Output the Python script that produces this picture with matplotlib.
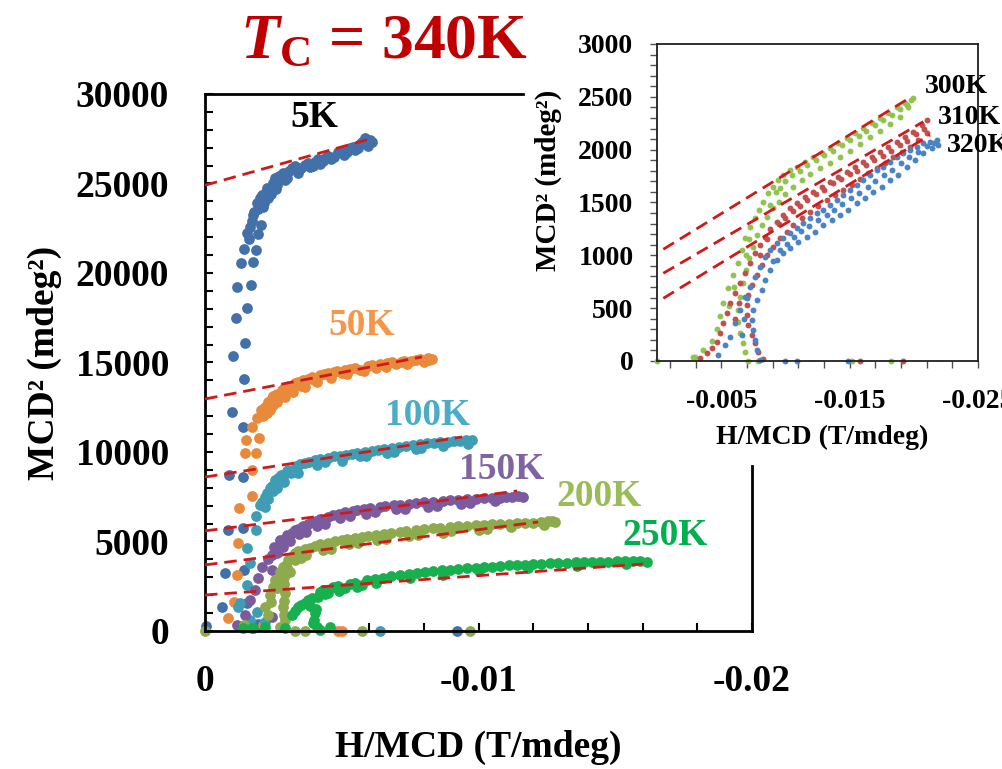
import matplotlib
matplotlib.use("Agg")
import matplotlib.pyplot as plt

plt.rcParams['font.family'] = 'Liberation Serif'
plt.rcParams['font.weight'] = 'bold'
plt.rcParams['axes.labelweight'] = 'bold'
plt.rcParams['mathtext.fontset'] = 'custom'
plt.rcParams['mathtext.rm'] = 'Liberation Serif:bold'
plt.rcParams['mathtext.it'] = 'Liberation Serif:italic:bold'
plt.rcParams['mathtext.bf'] = 'Liberation Serif:bold'

# ---- Arrott plots, main panel (H/MCD in T/mdeg, MCD^2 in mdeg^2) ----
temps = ['5K', '50K', '100K', '150K', '200K', '250K']

x_5k = [-0.00004, -0.00062, -0.00154, -0.00073, -0.00143, -0.00084, -0.00139, -0.00088, -0.00139,
        -0.00099, -0.00139, -0.00102, -0.00143, -0.00146, -0.00113, -0.00154, -0.00117, -0.00168,
        -0.00132, -0.00176, -0.00143, -0.00186, -0.00154, -0.00165, -0.00194, -0.00176, -0.00205,
        -0.00190, -0.00194, -0.00208, -0.00215, -0.00227, -0.00240, -0.00256, -0.00265, -0.00285,
        -0.00300, -0.00318, -0.00340, -0.00366, -0.00385, -0.00402, -0.00420, -0.00439, -0.00460,
        -0.00486, -0.00510, -0.00530, -0.00548, -0.00567, -0.00585, -0.00596, -0.00611, -0.00921,
        -0.00194,
        -0.00200, -0.00212, -0.00222, -0.00232, -0.00248, -0.00260, -0.00272, -0.00292, -0.00308,
        -0.00330, -0.00352, -0.00375, -0.00395, -0.00412, -0.00430, -0.00450, -0.00472, -0.00498,
        -0.00520, -0.00540, -0.00558, -0.00575, -0.00590, -0.00605, -0.00170, -0.00180, -0.00160]
y_5k = [250, 1340, 1560, 3240, 3410, 5640, 5750, 8720, 8600,
        12240, 11400, 15360, 14080, 16090, 17490, 18050, 19220, 19330,
        20560, 20620, 21340, 21280, 22240, 22570, 22180, 23240, 22680,
        23910, 23550, 24360, 23900, 24750, 24400, 25310, 24900, 25590,
        25300, 25870, 25600, 26030, 25900, 26200, 26100, 26430, 26350,
        26760, 26600, 26990, 26850, 27210, 27540, 27100, 27320, 0,
        390,
        24200, 23700, 24500, 24200, 25050, 24700, 25400, 25200, 25700,
        25950, 25850, 26150, 26000, 26350, 26250, 26550, 26500, 26800,
        26750, 27050, 27000, 27300, 27250, 27450, 22900, 23400, 21900]

x_50k = [-0.00084, -0.00106, -0.00117, -0.00121, -0.00124, -0.00172, -0.00172, -0.00146, -0.00186,
         -0.00150, -0.00197, -0.00172, -0.00190, -0.00205, -0.00219, -0.00212, -0.00230, -0.00238,
         -0.00245, -0.00263, -0.00265, -0.00282, -0.00293, -0.00303, -0.00320, -0.00329, -0.00358,
         -0.00365, -0.00391, -0.00410, -0.00420, -0.00450, -0.00460, -0.00483, -0.00512, -0.00520,
         -0.00548, -0.00580, -0.00596, -0.00640, -0.00660, -0.00684, -0.00728, -0.00740, -0.00771,
         -0.00800, -0.00815, -0.00830, -0.00212, -0.00486, -0.00501,
         -0.00225, -0.00235, -0.00250, -0.00255, -0.00272, -0.00290, -0.00310, -0.00340, -0.00350,
         -0.00375, -0.00400, -0.00435, -0.00470, -0.00500, -0.00530, -0.00565, -0.00610, -0.00625,
         -0.00665, -0.00700, -0.00715, -0.00755, -0.00785, -0.00820, -0.00250]
y_50k = [730, 1620, 3130, 4920, 6870, 7540, 9000, 9940, 9940,
         10670, 10780, 11400, 11900, 12350, 12510, 12000, 12790, 12350,
         13020, 13240, 12800, 13460, 13070, 13690, 13350, 13860, 14020,
         13650, 14190, 13900, 14300, 14410, 14150, 14530, 14580, 14350,
         14690, 14550, 14810, 14920, 14750, 15030, 15080, 14900, 15140,
         15050, 15250, 15200, 340, 0, 0,
         12200, 12650, 12600, 13100, 13000, 13550, 13500, 13900, 13700,
         14100, 14000, 14350, 14450, 14400, 14650, 14600, 14850, 14700,
         14950, 14900, 15050, 15100, 15200, 15150, 13150]

x_100k = [-0.00121, -0.00128, -0.00165, -0.00190, -0.00219, -0.00154, -0.00165, -0.00154, -0.00186,
          -0.00186, -0.00201, -0.00219, -0.00219, -0.00238, -0.00230, -0.00256, -0.00265, -0.00278,
          -0.00290, -0.00303, -0.00333, -0.00340, -0.00366, -0.00402, -0.00410, -0.00450, -0.00494,
          -0.00500, -0.00537, -0.00585, -0.00590, -0.00633, -0.00684, -0.00690, -0.00735, -0.00786,
          -0.00790, -0.00837, -0.00888, -0.00932, -0.00976, -0.00640,
          -0.00210, -0.00225, -0.00245, -0.00250, -0.00268, -0.00285, -0.00298, -0.00315, -0.00348,
          -0.00380, -0.00420, -0.00440, -0.00470, -0.00515, -0.00555, -0.00565, -0.00610, -0.00655,
          -0.00665, -0.00710, -0.00760, -0.00770, -0.00810, -0.00860, -0.00870, -0.00910, -0.00955,
          -0.00960]
y_100k = [1340, 1560, 610, 1060, 500, 2570, 3800, 4640, 5640,
          6430, 7040, 6930, 7490, 7990, 7400, 8440, 8000, 8720,
          8350, 9000, 9220, 8850, 9390, 9550, 9250, 9670, 9780,
          9500, 9890, 10000, 9750, 10110, 10220, 9980, 10340, 10450,
          10200, 10500, 10560, 10620, 10670, 0,
          7200, 7700, 8100, 7800, 8550, 8500, 8950, 8800, 9300,
          9450, 9600, 9450, 9750, 9850, 9950, 9750, 10050, 10150,
          9950, 10280, 10400, 10150, 10480, 10530, 10350, 10600, 10650,
          10450]

x_150k = [-0.00117, -0.00146, -0.00165, -0.00183, -0.00194, -0.00208, -0.00245, -0.00245, -0.00260,
          -0.00274, -0.00285, -0.00300, -0.00310, -0.00329, -0.00358, -0.00370, -0.00391, -0.00420,
          -0.00440, -0.00468, -0.00512, -0.00530, -0.00556, -0.00603, -0.00620, -0.00658, -0.00713,
          -0.00730, -0.00771, -0.00834, -0.00850, -0.00896, -0.00958, -0.00970, -0.01020, -0.01079,
          -0.01122, -0.01163, -0.00289, -0.00245,
          -0.00230, -0.00252, -0.00265, -0.00280, -0.00292, -0.00318, -0.00340, -0.00345, -0.00375,
          -0.00405, -0.00410, -0.00450, -0.00490, -0.00495, -0.00540, -0.00580, -0.00590, -0.00640,
          -0.00690, -0.00700, -0.00745, -0.00800, -0.00815, -0.00870, -0.00925, -0.00935, -0.00990,
          -0.01050, -0.01060, -0.01100, -0.01145]
y_150k = [340, 890, 1730, 2290, 2960, 3580, 3410, 4250, 4640,
          5080, 4700, 5360, 5000, 5640, 5870, 5550, 6090, 6260,
          5950, 6480, 6650, 6400, 6760, 6870, 6650, 6980, 7040,
          6820, 7150, 7210, 7000, 7320, 7370, 7150, 7430, 7430,
          7490, 7490, 220, 780,
          4000, 4700, 4350, 4900, 5150, 5450, 5700, 5400, 5950,
          6150, 5850, 6350, 6550, 6300, 6700, 6800, 6550, 6920,
          7020, 6800, 7100, 7180, 6950, 7270, 7330, 7100, 7400,
          7450, 7250, 7480, 7530]

x_200k = [-0.00143, -0.00219, -0.00238, -0.00256, -0.00274, -0.00285, -0.00293, -0.00285, -0.00293,
          -0.00274, -0.00303, -0.00300, -0.00329, -0.00330, -0.00366, -0.00370, -0.00402, -0.00450,
          -0.00460, -0.00501, -0.00548, -0.00560, -0.00596, -0.00654, -0.00660, -0.00713, -0.00771,
          -0.00780, -0.00834, -0.00896, -0.00900, -0.00958, -0.01020, -0.01030, -0.01079, -0.01141,
          -0.01199, -0.01254, -0.01280, -0.00329, -0.00366, -0.00574, -0.00969, 0.0,
          -0.00262, -0.00270, -0.00278, -0.00290, -0.00296, -0.00310, -0.00315, -0.00340, -0.00350,
          -0.00385, -0.00420, -0.00430, -0.00475, -0.00520, -0.00525, -0.00575, -0.00625, -0.00630,
          -0.00680, -0.00735, -0.00745, -0.00800, -0.00860, -0.00870, -0.00925, -0.00990, -0.01000,
          -0.01050, -0.01110, -0.01120, -0.01170, -0.01230, -0.01240, -0.01268,
          -0.00288, -0.00290, -0.00288, -0.00250, -0.00240, -0.00230]
y_200k = [340, 1340, 2010, 2850, 3300, 3580, 2120, 1340, 610,
          220, 3970, 3500, 4360, 3950, 4580, 4250, 4750, 4920,
          4600, 5080, 5200, 4900, 5310, 5420, 5150, 5530, 5640,
          5380, 5750, 5810, 5580, 5870, 5920, 5700, 5980, 6030,
          6030, 6150, 6090, 0, 0, 0, 0, 0,
          2400, 2700, 3100, 3000, 3700, 3300, 4150, 4450, 4100,
          4650, 4850, 4500, 5000, 5150, 4850, 5250, 5380, 5100,
          5480, 5590, 5300, 5690, 5780, 5500, 5850, 5900, 5650,
          5950, 6000, 5800, 6030, 6080, 5900, 6120,
          2600, 1700, 900, 2450, 1600, 900]

x_250k = [-0.00176, -0.00219, -0.00293, -0.00318, -0.00340, -0.00366, -0.00395, -0.00402, -0.00410,
          -0.00420, -0.00457, -0.00391, -0.00413, -0.00420, -0.00450, -0.00468, -0.00512, -0.00530,
          -0.00574, -0.00592, -0.00651, -0.00713, -0.00775, -0.00834, -0.00896, -0.00958, -0.01020,
          -0.01079, -0.01141, -0.01199, -0.01261, -0.01324, -0.01386, -0.01444, -0.01506, -0.01565,
          -0.01616, -0.00139, -0.00172,
          -0.00330, -0.00350, -0.00375, -0.00385, -0.00400, -0.00405, -0.00430, -0.00440, -0.00485,
          -0.00490, -0.00550, -0.00555, -0.00620, -0.00625, -0.00680, -0.00745, -0.00750, -0.00805,
          -0.00865, -0.00870, -0.00925, -0.00990, -0.01000, -0.01050, -0.01110, -0.01170, -0.01180,
          -0.01230, -0.01290, -0.01355, -0.01360, -0.01415, -0.01475, -0.01535, -0.01590, -0.01540]
y_250k = [170, 220, 170, 890, 1340, 1560, 450, 1010, 220,
          60, 220, 1840, 1900, 2180, 2120, 2460, 2400, 2630,
          2570, 2850, 2960, 3130, 3240, 3350, 3410, 3520, 3580,
          3630, 3690, 3740, 3800, 3800, 3860, 3860, 3910, 3910,
          3860, 170, 170,
          1100, 1450, 1750, 1400, 600, 1250, 2300, 2050, 2500,
          2250, 2700, 2450, 2900, 2700, 3050, 3180, 2950, 3300,
          3380, 3150, 3460, 3540, 3350, 3600, 3660, 3710, 3520,
          3760, 3790, 3830, 3650, 3860, 3880, 3900, 3900, 3720]

# linear fits of the high-field part
fit_y0 = [24900, 12960, 8600, 5590, 3690, 2010]
fit_x1 = [-0.00603, -0.00793, -0.00940, -0.01141, -0.01218, -0.01601]
fit_y1 = [27490, 15310, 10840, 7820, 6090, 3740]

# temperature tags
tag_x = [-0.00399, -0.00574, -0.00815, -0.01086, -0.01441, -0.01682]
tag_y = [28660, 17040, 12010, 9000, 7490, 5360]

dot_colors = ['#4470AA', '#E8893C', '#3E9DB5', '#7A5C9E', '#8DAA4C', '#16B04E']
tag_colors = ['black', '#F79646', '#4BACC6', '#8064A2', '#9BBB59', '#00B050']

# ---- inset: near Tc ----
temps_in = ['300K', '310K', '320K']

x_300k = [-0.00283, -0.00361, -0.00426, -0.00465, -0.00491, -0.00517, -0.00556, -0.00595, -0.00628,
          -0.00659, -0.00685, -0.00724, -0.00763, -0.00797, -0.00828, -0.00867, -0.00906, -0.00945,
          -0.00984, -0.01036, -0.01088, -0.01153, -0.01218, -0.01282, -0.01347, -0.01412, -0.01477,
          -0.01542, -0.01607, -0.01672, -0.01737, -0.01802, -0.01867, -0.01931, -0.01996,
          -0.00711, -0.00685, -0.00667, -0.00646, -0.00633, -0.00633, -0.00646, -0.00667, -0.00693,
          -0.00719, -0.00750, -0.00781, -0.00815, -0.00854, -0.00901, -0.00948, -0.00999, -0.01062,
          -0.01127, -0.01192, -0.01269, -0.01347, -0.01425, -0.01503, -0.01581, -0.01659, -0.01737,
          -0.01815, -0.01893, -0.01957,
          0.0, -0.00296, -0.00789, -0.01516, -0.01822,
          -0.01000, -0.01050, -0.01110, -0.01170, -0.01240, -0.01300, -0.01370, -0.01440, -0.01500,
          -0.01570, -0.01630, -0.01700, -0.01760, -0.01830, -0.01890, -0.01950, -0.01980, -0.00880,
          -0.00930, -0.00960, -0.00720, -0.00690, -0.00600, -0.00560]
y_300k = [35, 104, 192, 300, 426, 546, 688, 814, 924,
          1051, 1161, 1271, 1350, 1429, 1508, 1587, 1650, 1713,
          1760, 1808, 1839, 1887, 1934, 1972, 2013, 2060, 2108,
          2155, 2202, 2250, 2297, 2344, 2401, 2445, 2486,
          3, 88, 167, 262, 372, 483, 609, 735, 861,
          972, 1082, 1193, 1287, 1366, 1445, 1508, 1581, 1650,
          1713, 1770, 1824, 1877, 1934, 1991, 2054, 2117, 2180,
          2243, 2313, 2401,
          0, 35, 0, 0, 0,
          1700, 1760, 1800, 1850, 1900, 1950, 1990, 2040, 2090,
          2130, 2180, 2230, 2280, 2330, 2380, 2420, 2470, 1480,
          1600, 1640, 1150, 1000, 700, 520]

x_310k = [-0.00335, -0.00387, -0.00426, -0.00465, -0.00491, -0.00517, -0.00543, -0.00569, -0.00607,
          -0.00646, -0.00685, -0.00724, -0.00763, -0.00802, -0.00841, -0.00880, -0.00932, -0.00984,
          -0.01036, -0.01088, -0.01153, -0.01218, -0.01282, -0.01347, -0.01412, -0.01477, -0.01542,
          -0.01607, -0.01672, -0.01737, -0.01802, -0.01867, -0.01931, -0.01996, -0.02061, -0.02100,
          -0.00828, -0.00789, -0.00763, -0.00737, -0.00711, -0.00698, -0.00698, -0.00711, -0.00737,
          -0.00776, -0.00815, -0.00854, -0.00906, -0.00958, -0.01010, -0.01062, -0.01127, -0.01192,
          -0.01256, -0.01321, -0.01386, -0.01451, -0.01516, -0.01581, -0.01646, -0.01711, -0.01776,
          -0.01841, -0.01906, -0.01970, -0.02035, -0.02100,
          -0.01581, -0.01918,
          -0.00950, -0.01000, -0.01060, -0.01110, -0.01170, -0.01240, -0.01300, -0.01370, -0.01430,
          -0.01500, -0.01560, -0.01630, -0.01690, -0.01760, -0.01820, -0.01890, -0.01950, -0.02020,
          -0.02080, -0.00860, -0.00800, -0.00640, -0.00610]
y_310k = [25, 73, 120, 183, 262, 357, 451, 546, 640,
          735, 830, 924, 1019, 1098, 1177, 1246, 1319, 1382,
          1445, 1499, 1555, 1603, 1650, 1697, 1745, 1792, 1839,
          1887, 1934, 1981, 2029, 2076, 2123, 2171, 2234, 2281,
          16, 88, 167, 246, 341, 435, 530, 625, 719,
          814, 909, 1003, 1082, 1161, 1224, 1287, 1350, 1413,
          1467, 1524, 1571, 1618, 1666, 1719, 1776, 1824, 1871,
          1934, 1981, 2029, 2092, 2155,
          0, 0,
          1300, 1350, 1420, 1470, 1520, 1580, 1620, 1680, 1720,
          1770, 1800, 1850, 1900, 1940, 1990, 2040, 2080, 2150,
          2200, 1150, 1000, 550, 400]

x_320k = [-0.00478, -0.00530, -0.00569, -0.00607, -0.00646, -0.00685, -0.00724, -0.00763, -0.00802,
          -0.00841, -0.00880, -0.00932, -0.00984, -0.01036, -0.01088, -0.01140, -0.01192, -0.01244,
          -0.01295, -0.01347, -0.01399, -0.01451, -0.01503, -0.01555, -0.01607, -0.01659, -0.01711,
          -0.01763, -0.01815, -0.01867, -0.01918, -0.01970, -0.02022, -0.02074, -0.02126, -0.02178,
          -0.00802, -0.00776, -0.00763, -0.00750, -0.00737, -0.00750, -0.00776, -0.00815, -0.00841,
          -0.00880, -0.00932, -0.00984, -0.01036, -0.01101, -0.01166, -0.01231, -0.01295, -0.01360,
          -0.01425, -0.01490, -0.01555, -0.01620, -0.01685, -0.01750, -0.01815, -0.01880, -0.01944,
          -0.02009, -0.02074, -0.02139, -0.02191,
          -0.00997, -0.01088, -0.01490,
          -0.00900, -0.00960, -0.01010, -0.01070, -0.01120, -0.01180, -0.01250, -0.01320, -0.01380,
          -0.01440, -0.01510, -0.01570, -0.01640, -0.01700, -0.01770, -0.01830, -0.01900, -0.01960,
          -0.02030, -0.02100, -0.02160, -0.00700, -0.00680, -0.00660]
y_320k = [57, 151, 230, 357, 483, 609, 704, 798, 893,
          987, 1051, 1114, 1161, 1208, 1256, 1303, 1350, 1398,
          1429, 1477, 1524, 1571, 1618, 1666, 1713, 1760, 1808,
          1839, 1887, 1934, 1966, 1997, 2029, 2060, 2076, 2092,
          9, 104, 199, 293, 388, 483, 577, 672, 767,
          861, 956, 1019, 1066, 1129, 1177, 1224, 1287, 1335,
          1382, 1429, 1492, 1540, 1603, 1650, 1713, 1760, 1839,
          1902, 1966, 2013, 2044,
          0, 0, 0,
          950, 1050, 1110, 1170, 1230, 1280, 1330, 1380, 1430,
          1490, 1540, 1590, 1650, 1700, 1760, 1810, 1870, 1930,
          1980, 2030, 2060, 600, 400, 250]

fit_in_x0 = [-0.00049, -0.00049, -0.00049]
fit_in_y0 = [1057, 830, 593]
fit_in_x1 = [-0.01983, -0.02074, -0.02126]
fit_in_y1 = [2502, 2265, 2139]

tag_in_x = [-0.02087, -0.02188, -0.02259]
tag_in_y = [2593, 2300, 2035]

dot_colors_in = ['#92C350', '#C0504D', '#4A84C4']
fit_color = '#D01A1A'

main_x = [x_5k, x_50k, x_100k, x_150k, x_200k, x_250k]
main_y = [y_5k, y_50k, y_100k, y_150k, y_200k, y_250k]
in_x = [x_300k, x_310k, x_320k]
in_y = [y_300k, y_310k, y_320k]

fig = plt.figure(figsize=(10.02, 7.69), dpi=100)

# main panel
ax = fig.add_axes([0.2046, 0.1795, 0.5459, 0.6983])
for xs, ys, c in zip(main_x, main_y, dot_colors):
    ax.scatter(xs, ys, s=60, color=c, linewidths=0, clip_on=False, zorder=2)
for y0, x1, y1 in zip(fit_y0, fit_x1, fit_y1):
    ax.plot([0, x1], [y0, y1], color=fit_color, lw=2.0, ls=(0, (4.5, 2.5)), zorder=3, clip_on=False)
for t, tx, ty, c in zip(temps, tag_x, tag_y, tag_colors):
    ax.text(tx, ty, t, color=c, fontsize=27, ha='center', va='center', zorder=4)

ax.set_xlim(0, -0.02)
ax.set_ylim(0, 30000)
xt = [-0.002 * i for i in range(11)]
ax.set_xticks(xt, ['0' if i == 0 else ('-0.01' if i == 5 else ('-0.02' if i == 10 else '')) for i in range(11)])
yt = [1000 * i for i in range(31)]
ax.set_yticks(yt, [str(v) if v % 5000 == 0 else '' for v in yt])
ax.tick_params(axis='both', direction='in', length=6, width=1.5, labelsize=27)
ax.tick_params(axis='x', pad=24)
ax.tick_params(axis='y', pad=26)

# the inset sits over the top-right corner, so draw the frame pieces by hand
for side in ['top', 'right']:
    ax.spines[side].set_visible(False)
for side in ['left', 'bottom']:
    ax.spines[side].set_linewidth(2)
ax.plot([0, (523 - 205) / 547], [1, 1], transform=ax.transAxes, color='black', lw=2, clip_on=False)
ax.plot([1, 1], [0, (631 - 466) / 537], transform=ax.transAxes, color='black', lw=2, clip_on=False)

ax.set_ylabel('MCD² (mdeg²)', fontsize=27)
ax.yaxis.set_label_coords(-0.262, 0.5)
ax.set_xlabel('H/MCD (T/mdeg)', fontsize=27)
ax.xaxis.set_label_coords(0.5, -0.185)

# inset panel
axi = fig.add_axes([0.6557, 0.5306, 0.3204, 0.4122])
axi.set_zorder(3)
for xs, ys, c in zip(in_x, in_y, dot_colors_in):
    axi.scatter(xs, ys, s=18, color=c, linewidths=0, clip_on=False, zorder=2)
for x0, y0, x1, y1 in zip(fit_in_x0, fit_in_y0, fit_in_x1, fit_in_y1):
    axi.plot([x0, x1], [y0, y1], color=fit_color, lw=2.0, ls=(0, (4.5, 2.5)), zorder=3)
for t, tx, ty in zip(temps_in, tag_in_x, tag_in_y):
    axi.text(tx, ty, t, fontsize=20, ha='left', va='center', clip_on=False)

axi.set_xlim(0, -0.025)
axi.set_ylim(0, 3000)
xti = [-0.001 - 0.002 * i for i in range(13)]
axi.set_xticks(xti, ['-0.005' if i == 2 else ('-0.015' if i == 7 else ('-0.025' if i == 12 else '')) for i in range(13)])
yti = [100 * i for i in range(31)]
axi.set_yticks(yti, [str(v) if v % 500 == 0 else '' for v in yti])
axi.tick_params(axis='both', direction='out', length=5, width=1, color='#505050', labelsize=20)
axi.tick_params(axis='x', pad=15)
axi.tick_params(axis='y', pad=12)
for side in axi.spines.values():
    side.set_linewidth(1.3)
    side.set_color('#202020')
axi.set_ylabel('MCD² (mdeg²)', fontsize=21)
axi.yaxis.set_label_coords(-0.296, 0.57)
axi.set_xlabel('H/MCD (T/mdeg)', fontsize=20)
axi.xaxis.set_label_coords(0.514, -0.2)

fig.text(384 / 1002, 1 - 58 / 769, r'$T_{\mathrm{C}}$ = 340K', color='#C00000', fontsize=46,
         ha='center', va='baseline')

fig.savefig('out.png', dpi=100)
